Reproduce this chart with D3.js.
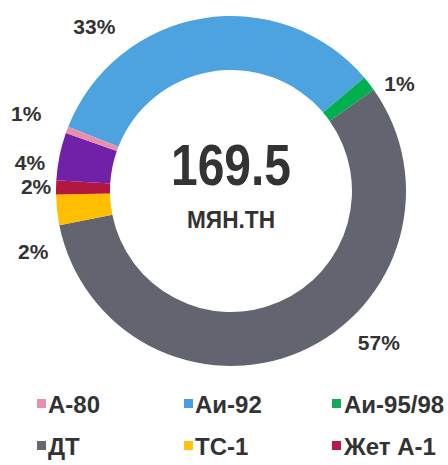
<!DOCTYPE html>
<html><head><meta charset="utf-8">
<script src="https://cdn.jsdelivr.net/npm/d3@7"></script>
<style>
body{margin:0;background:#fff;}
svg{display:block;}
</style></head>
<body>
<svg id="chart" width="448" height="465"></svg>
<script>
// Data (clockwise order starting at the blue slice)
const categories = ["Аи-92", "Аи-95/98", "ДТ", "ТС-1", "Жет А-1", "Other", "А-80"];
const values     = [32.8, 1.4, 56.7, 2.8, 1.3, 4.4, 0.6];
const pctLabels  = ["33%", "1%", "57%", "2%", "2%", "4%", "1%"];
const colors     = ["#4da3df", "#00b04f", "#62646f", "#ffbf00", "#b3173f", "#7021a8", "#e88fae"];
const totalLabel = "169.5";
const unitLabel  = "МЯН.ТН";
const legendItems  = ["А-80", "Аи-92", "Аи-95/98", "ДТ", "ТС-1", "Жет А-1"];
const legendColors = ["#e88fab", "#4b9fe0", "#12aa55", "#666870", "#ffc20e", "#b8194a"];

// Layout
const cx = 231, cy = 191, rOuter = 175, rInner = 121;
const startDeg = -68.5;
// label positions in polar (degrees clockwise from north, radius)
const labelPolar = [[-39.7, 214], [57.4, 200], [135.8, 212], [252.9, 207], [271.2, 195], [278, 203], [290.8, 219]];

const svg = d3.select("#chart");
const g = svg.append("g").attr("transform", `translate(${cx},${cy})`);

const pie = d3.pie().sort(null).value(d => d)
  .startAngle(startDeg * Math.PI / 180)
  .endAngle(startDeg * Math.PI / 180 + 2 * Math.PI);
const arc = d3.arc().innerRadius(rInner).outerRadius(rOuter);

g.selectAll("path.slice").data(pie(values)).enter().append("path")
  .attr("class", "slice")
  .attr("d", arc)
  .attr("fill", (d, i) => colors[i]);

// percent labels
g.selectAll("text.pct").data(pctLabels).enter().append("text")
  .attr("class", "pct")
  .attr("x", (d, i) => labelPolar[i][1] * Math.sin(labelPolar[i][0] * Math.PI / 180))
  .attr("y", (d, i) => -labelPolar[i][1] * Math.cos(labelPolar[i][0] * Math.PI / 180))
  .attr("text-anchor", "middle")
  .attr("dominant-baseline", "central")
  .attr("font-family", "Liberation Sans, Arial, sans-serif")
  .attr("font-weight", "bold")
  .attr("font-size", 21)
  .attr("fill", "#333")
  .text(d => d);

// center texts
g.append("text")
  .attr("x", 0).attr("y", -6)
  .attr("text-anchor", "middle")
  .attr("font-family", "Liberation Sans, Arial, sans-serif")
  .attr("font-weight", "bold")
  .attr("font-size", 58)
  .attr("textLength", 120)
  .attr("lengthAdjust", "spacingAndGlyphs")
  .attr("fill", "#333")
  .text(totalLabel);
g.append("text")
  .attr("x", 0).attr("y", 37)
  .attr("text-anchor", "middle")
  .attr("font-family", "Liberation Sans, Arial, sans-serif")
  .attr("font-weight", "bold")
  .attr("font-size", 23)
  .attr("textLength", 88)
  .attr("lengthAdjust", "spacingAndGlyphs")
  .attr("fill", "#333")
  .text(unitLabel);

// legend
const colX = [37, 184, 332];
const rowY = [404, 446];
const lg = svg.append("g");
const items = lg.selectAll("g.item").data(legendItems).enter().append("g")
  .attr("class", "item")
  .attr("transform", (d, i) => `translate(${colX[i % 3]},${rowY[Math.floor(i / 3)]})`);
items.append("rect")
  .attr("x", 0).attr("y", -5).attr("width", 9).attr("height", 9)
  .attr("fill", (d, i) => legendColors[i]);
items.append("text")
  .attr("x", (d, i) => (i % 3 === 2) ? 12 : 11)
  .attr("y", 0)
  .attr("dominant-baseline", "central")
  .attr("font-family", "Liberation Sans, Arial, sans-serif")
  .attr("font-weight", "bold")
  .attr("font-size", 24)
  .attr("fill", "#333")
  .text(d => d);
</script>
</body></html>
